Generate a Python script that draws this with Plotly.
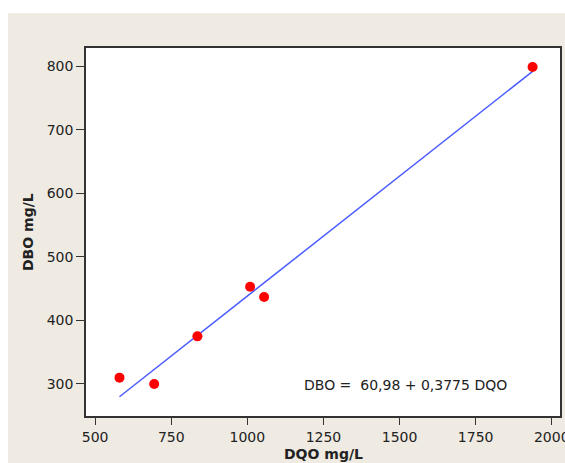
import plotly.graph_objects as go

# Data
dqo = [580, 694, 836, 1009, 1055, 1937]
dbo = [310, 300, 375, 453, 437, 799]
intercept = 60.98
slope = 0.3775
x_ticks = [500, 750, 1000, 1250, 1500, 1750, 2000]
y_ticks = [300, 400, 500, 600, 700, 800]

line_x = [min(dqo), max(dqo)]
line_y = [intercept + slope * v for v in line_x]

fig = go.Figure()
fig.add_trace(go.Scatter(x=line_x, y=line_y, mode="lines",
                         line=dict(color="#4a5cff", width=1.5), showlegend=False))
fig.add_trace(go.Scatter(x=dqo, y=dbo, mode="markers",
                         marker=dict(color="#ff0000", size=10), showlegend=False))

font = "DejaVu Sans, Verdana, sans-serif"
W, H = 565, 463
L, R, T, B = 86, 5, 48, 47
pw, ph = W - L - R, H - T - B

fig.update_layout(
    width=W, height=H,
    margin=dict(l=L, r=R, t=T, b=B),
    paper_bgcolor="#efebe2",
    plot_bgcolor="white",
    font=dict(family=font, size=14, color="#222"),
    xaxis=dict(range=[470, 2027], tickvals=x_ticks, ticks="outside", ticklen=7,
               tickcolor="#333", showgrid=False, zeroline=False, showline=True,
               linecolor="#333", linewidth=1.5, mirror=True, automargin=False,
               ticklabeloverflow="allow", tickfont=dict(size=14)),
    yaxis=dict(range=[249.6, 829], tickvals=y_ticks, ticks="outside", ticklen=8,
               tickcolor="#333", showgrid=False, zeroline=False, showline=True,
               linecolor="#333", linewidth=1.5, mirror=True, automargin=False,
               tickfont=dict(size=14)),
    shapes=[
        dict(type="rect", xref="paper", yref="paper", x0=-0.2, x1=1.1,
             y0=(ph - 13 + T) / ph, y1=1.3, fillcolor="white", line=dict(width=0), layer="below"),
        dict(type="rect", xref="paper", yref="paper", x0=-0.2, x1=-(L - 8) / pw,
             y0=-0.2, y1=1.3, fillcolor="white", line=dict(width=0), layer="below"),
    ],
    annotations=[
        dict(x=1518, y=298, xref="x", yref="y", text="DBO =  60,98 + 0,3775 DQO",
             showarrow=False, font=dict(size=14, family=font, color="#222")),
        dict(x=0.5, y=-(454 - (T + ph)) / ph, xref="paper", yref="paper",
             text="<b>DQO mg/L</b>", showarrow=False, yanchor="middle",
             font=dict(size=14, family=font, color="#222")),
        dict(x=-(L - 28) / pw, y=0.5, xref="paper", yref="paper",
             text="<b>DBO mg/L</b>", showarrow=False, textangle=-90,
             xanchor="center", yanchor="middle",
             font=dict(size=14, family=font, color="#222")),
    ],
)

fig.write_html("out.html", config={"displayModeBar": False},
               post_script="document.body.style.margin='0';document.body.style.overflow='hidden';")
